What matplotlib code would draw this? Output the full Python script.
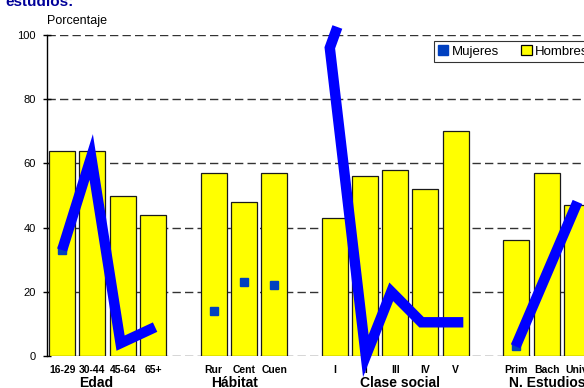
import matplotlib
matplotlib.use("Agg")
import matplotlib.pyplot as plt
from matplotlib.lines import Line2D
from matplotlib.patches import Patch
import numpy as np

plt.rcParams['font.family'] = ['Liberation Sans', 'DejaVu Sans']

# categories (None = empty slot between groups)
categories = ["16-29", "30-44", "45-64", "65+", None,
              "Rur", "Cent", "Cuen", None,
              "I", "II", "III", "IV", "V", None,
              "Prim", "Bach", "Univ"]
groups = ["Edad", "Hábitat", "Clase social", "N. Estudios"]

hombres = [64, 64, 50, 44, np.nan, 57, 48, 57, np.nan,
           43, 56, 58, 52, 70, np.nan, 36, 57, 47]
# only the squares that are not hidden under the blue strokes
mujeres = [33, np.nan, np.nan, np.nan, np.nan, 14, 23, 22, np.nan,
           np.nan, np.nan, np.nan, np.nan, np.nan, np.nan, 3, np.nan, np.nan]

# thick blue strokes drawn over the chart (slot position, value)
edad_stroke_x = [0, 0.96, 1.93, 3.07]
edad_stroke_y = [33, 62, 4, 9]
clase_stroke_x = [9.09, 8.84, 10.03, 10.87, 11.87, 13.25]
clase_stroke_y = [102.5, 96, 0, 20, 10.5, 10.5]
estudios_stroke_x = [14.98, 17.02]
estudios_stroke_y = [3, 48]

W, H = 584, 388
fig = plt.figure(figsize=(W / 100, H / 100), dpi=100)
ax = fig.add_axes([47 / W, (H - 356) / H, (592 - 47) / W, (356 - 35) / H])

x = np.arange(len(categories))
ax.set_xlim(-0.5, 17.5)
ax.set_ylim(0, 100)

for yv in range(0, 101, 20):
    ax.axhline(yv, color='#333333', lw=1.0, ls=(0, (6, 3)), zorder=0.5)

ax.bar(x, hombres, width=0.86, color='#FFFF00', edgecolor='#1a1a1a',
       linewidth=0.9, zorder=2)
ax.plot(x, mujeres, ls='none', marker='s', ms=6, color='#0040C0',
        zorder=3, clip_on=False)

for sx, sy in [(edad_stroke_x, edad_stroke_y),
               (clase_stroke_x, clase_stroke_y),
               (estudios_stroke_x, estudios_stroke_y)]:
    ax.plot(sx, sy, color='#0000FF', lw=7.5, solid_joinstyle='miter',
            solid_capstyle='butt', zorder=5, clip_on=False)

for s in ['top', 'right', 'bottom']:
    ax.spines[s].set_visible(False)
ax.spines['left'].set_color('black')
ax.spines['left'].set_linewidth(1.0)

ax.set_xticks([])
ax.set_yticks(range(0, 101, 20))
ax.tick_params(axis='y', direction='inout', length=6, width=1, pad=5,
               labelsize=8)

trans = ax.get_xaxis_transform()
for i, c in enumerate(categories):
    if c:
        ax.text(i, -0.044, c, transform=trans, ha='center', va='center',
                fontsize=7.5, fontweight='bold', zorder=3)

group_pos = [1.14, 5.68, 11.15, 16.02]
for gx, g in zip(group_pos, groups):
    ax.text(gx, -0.085, g, transform=trans, ha='center', va='center',
            fontsize=10, fontweight='bold', zorder=3)

fig.text(47 / W, 1 - 21 / H, "Porcentaje", fontsize=9, ha='left', va='center')
fig.text(5 / W, 1 - 6 / H, "estudios:", fontsize=11, fontweight='bold',
         color='#000099', ha='left', va='baseline')

handles = [Line2D([], [], ls='none', marker='s', ms=7, color='#0040C0'),
           Patch(facecolor='#FFFF00', edgecolor='black', linewidth=0.9)]
leg = fig.legend(handles, ["Mujeres", "Hombres"], ncol=2,
                 loc='upper left', bbox_to_anchor=(434 / W, 1 - 41 / H),
                 fontsize=9.5, frameon=True, fancybox=False, handlelength=0.8,
                 handleheight=0.8, handletextpad=0.25, columnspacing=1.7,
                 borderpad=0.3, borderaxespad=0)
leg.get_frame().set_edgecolor('black')
leg.get_frame().set_linewidth(0.8)

fig.savefig("out.png", dpi=100)
